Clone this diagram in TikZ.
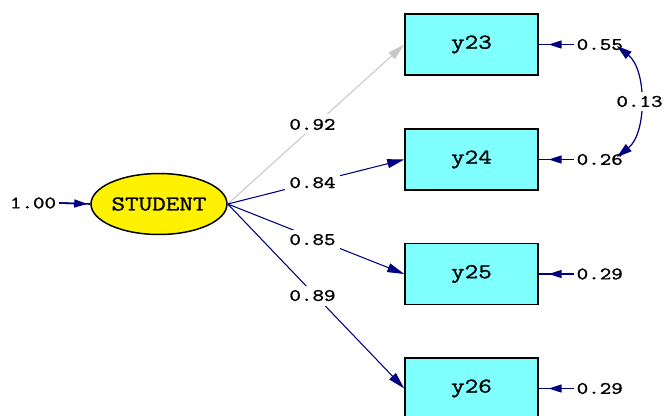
\documentclass[tikz,border=0pt]{standalone}
\usepackage{fontspec}
\newfontfamily\lisfont[FakeStretch=1.25,FakeBold=1.2]{Latin Modern Mono}
\usetikzlibrary{arrows.meta,shapes.geometric}
\definecolor{pathblue}{HTML}{000080}
\definecolor{boxcyan}{HTML}{80FFFF}
\definecolor{pathgray}{HTML}{C8C8C8}
\begin{document}
\begin{tikzpicture}[x=0.02cm,y=-0.02cm,
  obs/.style={draw=black, line width=0.85pt, fill=boxcyan, minimum width=2.66cm,
    minimum height=1.22cm, inner sep=0pt, font=\lisfont\fontsize{12}{13}\selectfont},
  latent/.style={ellipse, draw=black, line width=0.85pt, fill=yellow, minimum width=2.72cm,
    minimum height=1.22cm, inner sep=0pt, font=\lisfont\fontsize{12}{13}\selectfont},
  num/.style={font=\lisfont\fontsize{10}{11}\selectfont, text=black, inner sep=1.5pt},
  onpath/.style={num, fill=white, inner sep=2.5pt},
  tip/.style={-{Triangle[length=0.34cm,width=0.18cm]}},
  errtip/.style={-{Triangle[length=0.26cm,width=0.16cm]}},
  load/.style={pathblue, line width=0.6pt, tip},
  err/.style={pathblue, line width=0.9pt}
]
\useasboundingbox (0,0) rectangle (664,416);

% latent variable and indicators
\node[latent] (student) at (159,204) {STUDENT};
\node[obs] (y23) at (471.5,44.5) {y23};
\node[obs] (y24) at (471.5,159.5) {y24};
\node[obs] (y25) at (471.5,274) {y25};
\node[obs] (y26) at (471.5,388.5) {y26};

% variance of the latent variable
\node[num] (v) at (33,203) {1.00};
\draw[err] (v.east) -- (student.west);
\draw[err, errtip, shorten >=0.06cm] (v.east) -- (student.west);

% factor loadings
\draw[load, pathgray] (student.east) -- (y23.west)
  node[onpath, pos=0.48, yshift=0.06cm] {0.92};
\draw[load] (student.east) -- (y24.west)
  node[onpath, pos=0.48] {0.84};
\draw[load] (student.east) -- (y25.west)
  node[onpath, pos=0.48, yshift=-0.04cm] {0.85};
\draw[load] (student.east) -- (y26.west)
  node[onpath, pos=0.48, yshift=-0.06cm] {0.89};

% error variances
\foreach \y/\v in {23/0.55, 24/0.26, 25/0.29, 26/0.29}{
  \node[num, anchor=west] (e\y) at ([xshift=0.7cm]y\y.east) {\v};
  \draw[err] (e\y.west) -- (y\y.east);
  \draw[err, errtip, shorten >=0.2cm] (e\y.west) -- (y\y.east);
}

% error covariance between y23 and y24
\coordinate (c1) at (617,46);
\coordinate (c2) at (617,157);
\draw[pathblue, line width=0.7pt, {Triangle[length=0.3cm,width=0.18cm]}-{Triangle[length=0.3cm,width=0.18cm]}]
  (c1) .. controls (647,70) and (647,133) .. (c2)
  node[onpath, pos=0.5] {0.13};
\end{tikzpicture}
\end{document}
